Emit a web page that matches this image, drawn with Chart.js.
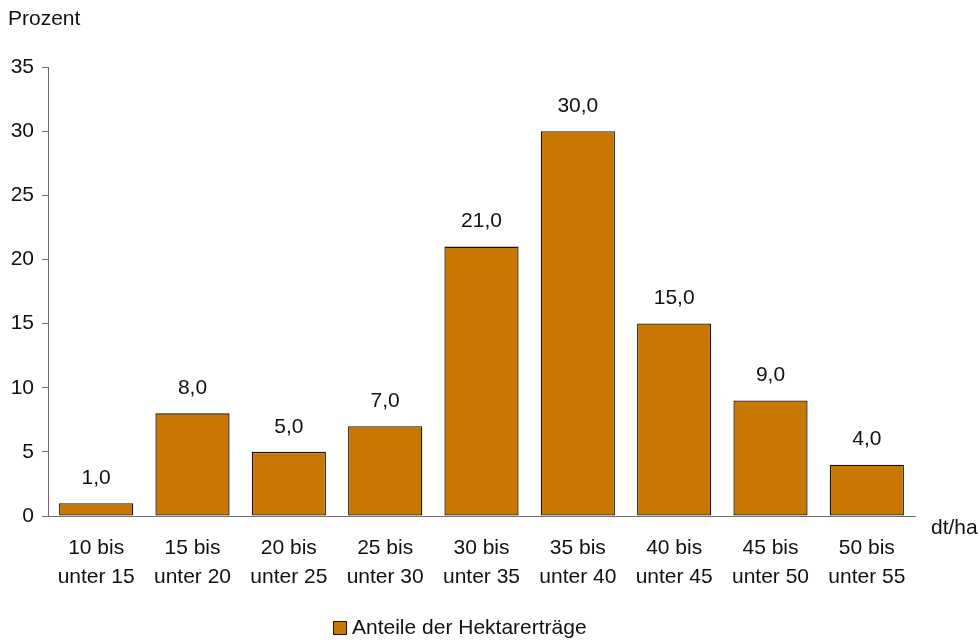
<!DOCTYPE html>
<html lang="de">
<head>
<meta charset="utf-8">
<title>Hektarerträge</title>
<script src="https://cdn.jsdelivr.net/npm/chart.js@4/dist/chart.umd.min.js"></script>
<style>
  html, body { margin: 0; padding: 0; background: #fff; }
  #wrap { width: 980px; height: 642px; position: relative; }
</style>
</head>
<body>
<div id="wrap"><canvas id="yieldChart"></canvas></div>
<script>
// Ertragsklassen (dt/ha) und Anteile in Prozent
const classes = [
    ["10 bis", "unter 15"], ["15 bis", "unter 20"], ["20 bis", "unter 25"],
    ["25 bis", "unter 30"], ["30 bis", "unter 35"], ["35 bis", "unter 40"],
    ["40 bis", "unter 45"], ["45 bis", "unter 50"], ["50 bis", "unter 55"]
];
const shares = [1.0, 8.0, 5.0, 7.0, 21.0, 30.0, 15.0, 9.0, 4.0];
const yTicks = [0, 5, 10, 15, 20, 25, 30, 35];
const seriesName = "Anteile der Hektarerträge";

const FONT = "'Liberation Sans', Arial, sans-serif";
const SIZE = 21;
const barColor = "#C87800";
const edgeColor = "#1a1208";
const axisColor = "#6e6e6e";

// Werte über den Balken, Einheiten an den Achsen, Legende unten
const annotations = {
    id: "annotations",
    afterDatasetsDraw(chart) {
        const ctx = chart.ctx;
        const meta = chart.getDatasetMeta(0);
        const ds = chart.data.datasets[0];
        ctx.save();
        ctx.fillStyle = "#111";
        ctx.font = SIZE + "px " + FONT;
        ctx.textAlign = "center";
        ctx.textBaseline = "middle";
        meta.data.forEach((bar, i) => {
            ctx.fillText(shares[i].toFixed(1).replace(".", ","), bar.x, bar.y - 25);
        });
        ctx.textAlign = "left";
        ctx.fillText("Prozent", 8, 19);
        ctx.fillText("dt/ha", 931, 528);

        // legend
        ctx.fillStyle = ds.backgroundColor;
        ctx.fillRect(333.5, 621.5, 13, 13);
        ctx.strokeStyle = ds.borderColor;
        ctx.lineWidth = 1;
        ctx.strokeRect(333.5, 621.5, 13, 13);
        ctx.fillStyle = "#111";
        ctx.fillText(ds.label, 352, 628);
        ctx.restore();
    }
};

const chart = new Chart(document.querySelector("#yieldChart"), {
    type: "bar",
    data: {
        labels: classes,
        datasets: [{
            label: seriesName,
            data: shares,
            backgroundColor: barColor,
            borderColor: edgeColor,
            borderWidth: 1.3,
            borderSkipped: false,
            categoryPercentage: 1,
            barPercentage: 0.77
        }]
    },
    options: {
        responsive: true,
        maintainAspectRatio: false,
        animation: false,
        layout: { padding: { top: 67, right: 65, left: 0, bottom: 0 } },
        scales: {
            x: {
                grid: { display: false, drawTicks: false },
                border: { display: true, color: axisColor, width: 1 },
                ticks: {
                    color: "#111",
                    font: { family: FONT, size: SIZE, lineHeight: 1.38 },
                    padding: 18,
                    maxRotation: 0,
                    autoSkip: false
                },
                afterFit(scale) { scale.height = 126; }
            },
            y: {
                min: 0,
                max: 35,
                afterBuildTicks(scale) { scale.ticks = yTicks.map(v => ({ value: v })); },
                grid: { drawOnChartArea: false, drawTicks: true, tickLength: 6, color: axisColor },
                border: { display: true, color: axisColor, width: 1 },
                ticks: {
                    color: "#111",
                    font: { family: FONT, size: SIZE },
                    padding: 8
                },
                afterFit(scale) { scale.width = 48; }
            }
        },
        plugins: {
            legend: { display: false },
            tooltip: { enabled: false }
        }
    },
    plugins: [annotations]
});
</script>
</body>
</html>
